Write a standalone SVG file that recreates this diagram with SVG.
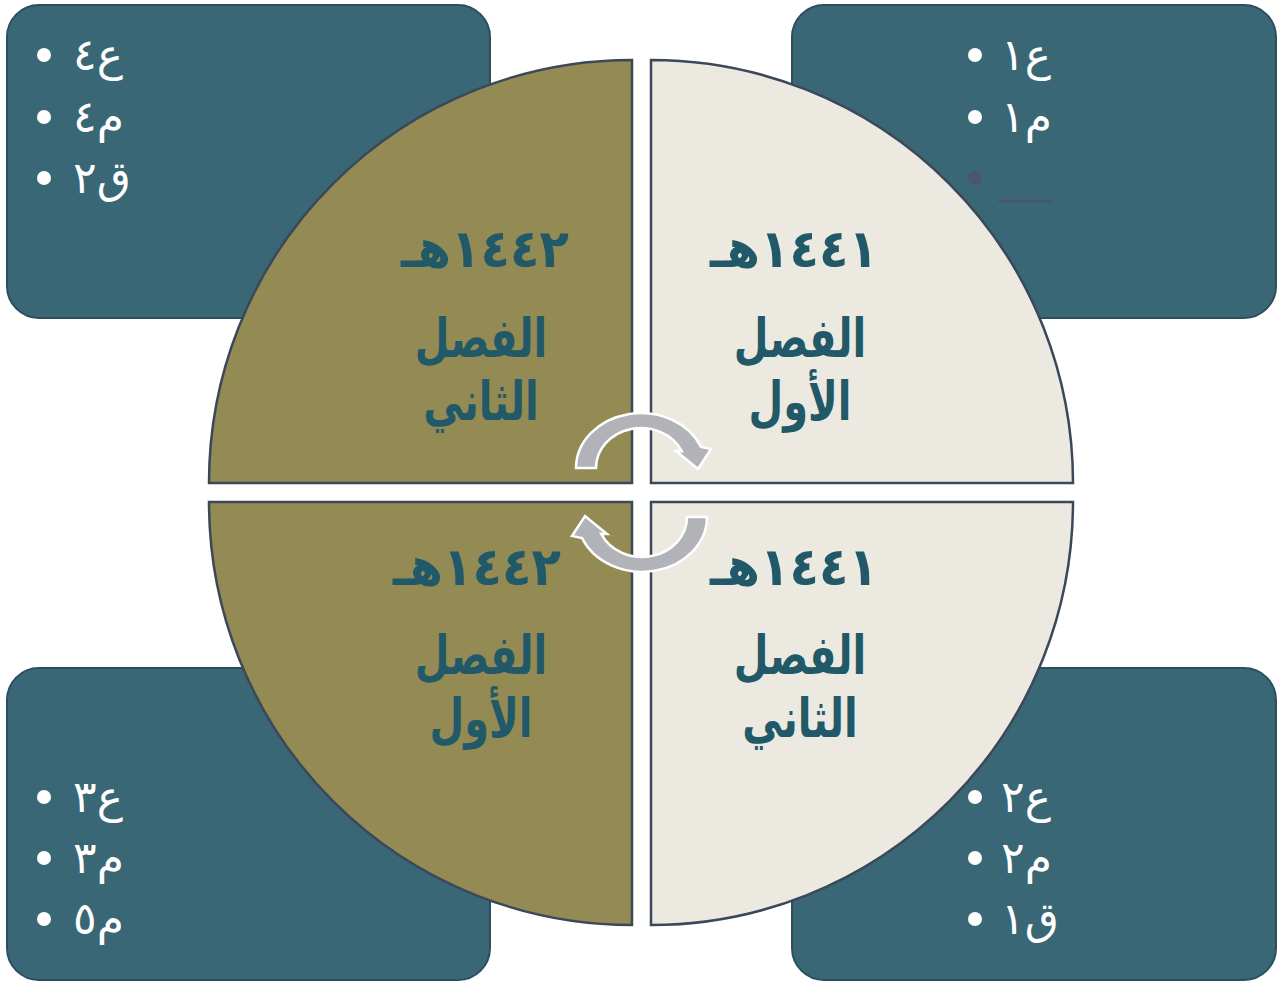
<svg xmlns="http://www.w3.org/2000/svg" width="1281" height="981" viewBox="0 0 1281 981">
<style>
.box{fill:#3a6776;stroke:#2c4e5e;stroke-width:2}
.olive{fill:#948a54;stroke:#3b485a;stroke-width:2.5}
.light{fill:#eceae0;stroke:#3b485a;stroke-width:2.5}
.t{font-family:"Liberation Serif","DejaVu Sans",serif;font-weight:bold;fill:#215968;text-anchor:middle}
.yr{font-size:46px;letter-spacing:15px}
.lb{font-size:50px}
.bt{font-family:"Liberation Serif","DejaVu Sans",serif;font-size:44px;fill:#ffffff}
.dot{fill:#ffffff}
.arr{fill:#b1b3b9;stroke:#ffffff;stroke-width:2.5;stroke-linejoin:miter}
</style>
<rect width="1281" height="981" fill="#ffffff"/>
<g id="box-tl"><rect class="box" x="7" y="5" width="483" height="313" rx="32"/>
<circle class="dot" cx="44" cy="55" r="7"/><text class="bt" x="73" y="70">ع٤</text>
<circle class="dot" cx="44" cy="117" r="7"/><text class="bt" x="73" y="132">م٤</text>
<circle class="dot" cx="44" cy="178" r="7"/><text class="bt" x="73" y="193">ق٢</text></g>
<g id="box-tr"><rect class="box" x="792" y="5" width="484" height="313" rx="32"/>
<circle class="dot" cx="975" cy="55" r="7"/><text class="bt" x="1001" y="70">ع١</text>
<circle class="dot" cx="975" cy="117" r="7"/><text class="bt" x="1001" y="132">م١</text>
<circle cx="975" cy="178" r="7" fill="#4a5670"/><line x1="998" y1="201" x2="1053" y2="201" stroke="#4a5670" stroke-width="3"/></g>
<g id="box-bl"><rect class="box" x="7" y="668" width="483" height="312" rx="32"/>
<circle class="dot" cx="44" cy="797" r="7"/><text class="bt" x="73" y="812">ع٣</text>
<circle class="dot" cx="44" cy="858" r="7"/><text class="bt" x="73" y="873">م٣</text>
<circle class="dot" cx="44" cy="919" r="7"/><text class="bt" x="73" y="934">م٥</text></g>
<g id="box-br"><rect class="box" x="792" y="668" width="484" height="312" rx="32"/>
<circle class="dot" cx="975" cy="797" r="7"/><text class="bt" x="1001" y="812">ع٢</text>
<circle class="dot" cx="975" cy="858" r="7"/><text class="bt" x="1001" y="873">م٢</text>
<circle class="dot" cx="975" cy="919" r="7"/><text class="bt" x="1001" y="934">ق١</text></g>
<g id="q-tl"><path class="olive" d="M632 483 H209 A423 423 0 0 1 632 60 Z"/>
<text class="t yr" transform="translate(485 267) scale(1.05 1.15)" direction="rtl">١٤٤٢هـ</text>
<text class="t lb" transform="translate(481 357) scale(0.8 1.08)">الفصل</text>
<text class="t lb" transform="translate(481 420) scale(0.8 1.08)">الثاني</text></g>
<g id="q-tr"><path class="light" d="M651 483 V60 A422 423 0 0 1 1073 483 Z"/>
<text class="t yr" transform="translate(794 267) scale(1.05 1.15)" direction="rtl">١٤٤١هـ</text>
<text class="t lb" transform="translate(800 357) scale(0.8 1.08)">الفصل</text>
<text class="t lb" transform="translate(800 420) scale(0.8 1.08)">الأول</text></g>
<g id="q-bl"><path class="olive" d="M632 502 V925 A423 423 0 0 1 209 502 Z"/>
<text class="t yr" transform="translate(477 585) scale(1.05 1.15)" direction="rtl">١٤٤٢هـ</text>
<text class="t lb" transform="translate(481 674) scale(0.8 1.08)">الفصل</text>
<text class="t lb" transform="translate(481 737) scale(0.8 1.08)">الأول</text></g>
<g id="q-br"><path class="light" d="M651 502 H1073 A422 423 0 0 1 651 925 Z"/>
<text class="t yr" transform="translate(794 585) scale(1.05 1.15)" direction="rtl">١٤٤١هـ</text>
<text class="t lb" transform="translate(800 674) scale(0.8 1.08)">الفصل</text>
<text class="t lb" transform="translate(800 737) scale(0.8 1.08)">الثاني</text></g>
<g id="connectors">
<path id="arrow-top" class="arr" d="M576 468 A65 55 0 0 1 701 447 L711 449 L698 469 L676 451 L681.8 451.1 A45 40 0 0 0 596 468 Z"/>
<path id="arrow-bottom" class="arr" transform="rotate(180 641.5 492.5)" d="M576 468 A65 55 0 0 1 701 447 L711 449 L698 469 L676 451 L681.8 451.1 A45 40 0 0 0 596 468 Z"/>
</g>
</svg>
